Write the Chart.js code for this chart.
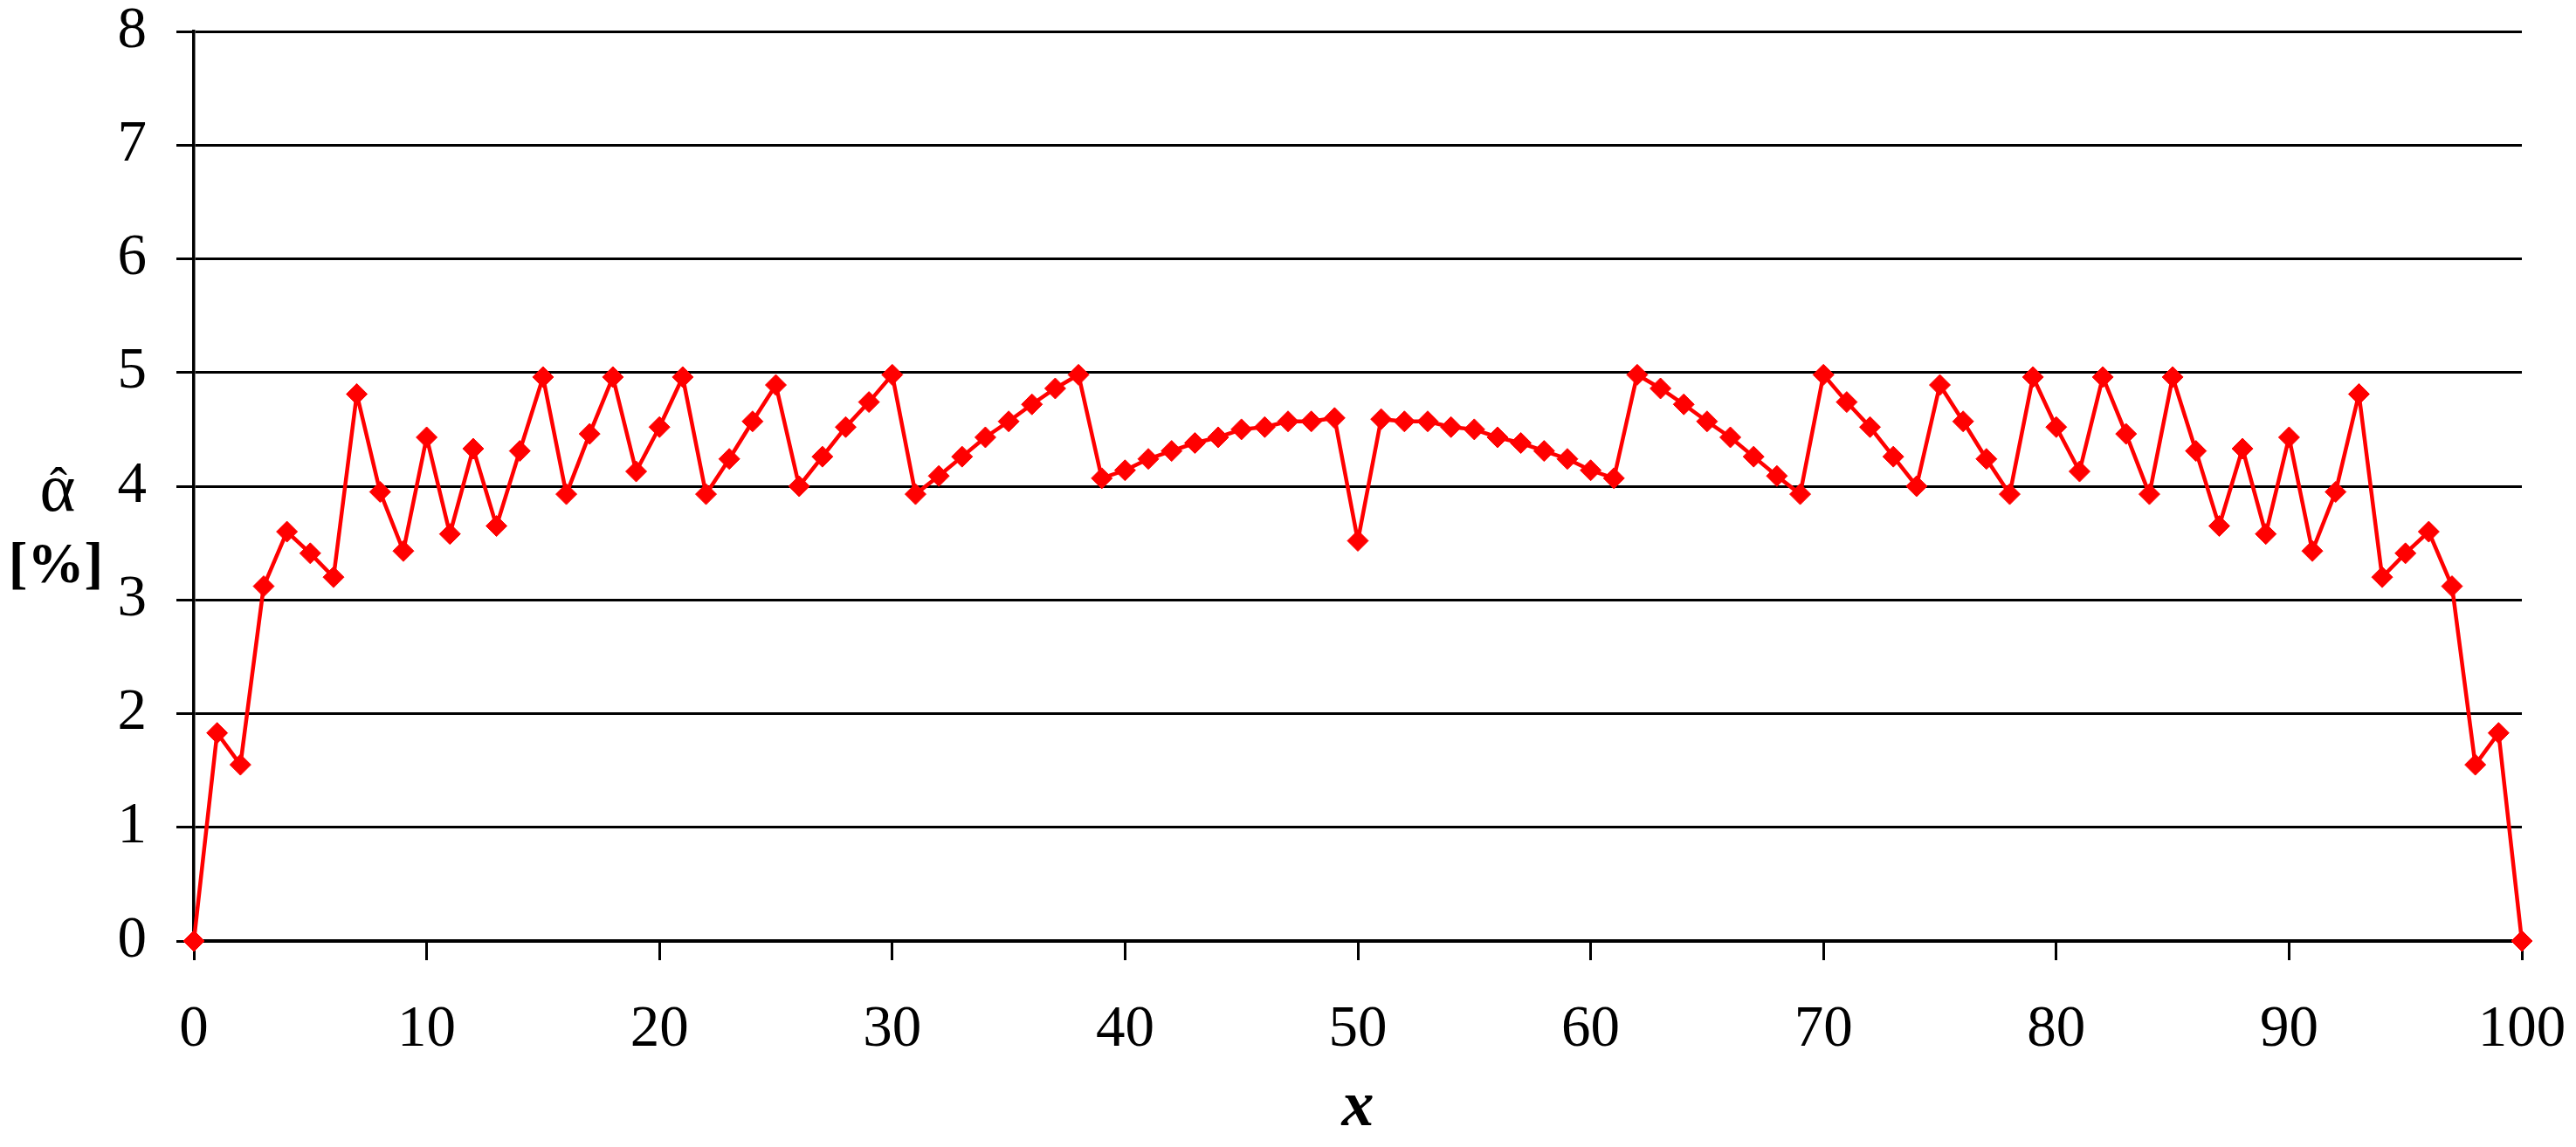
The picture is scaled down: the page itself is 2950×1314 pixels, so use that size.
<!DOCTYPE html>
<html>
<head>
<meta charset="utf-8">
<script src="https://cdn.jsdelivr.net/npm/chart.js@4.4.1/dist/chart.umd.min.js"></script>
<style>
  html, body { margin: 0; padding: 0; background: #fff; }
  #wrap { width: 2950px; height: 1314px; position: relative; }
</style>
</head>
<body>
<div id="wrap"><canvas id="alphaChart" width="2950" height="1314"></canvas></div>
<script>
// x positions 0..100
let xValues = [
    0, 1, 2, 3, 4, 5, 6, 7, 8, 9, 10, 11, 12, 13, 14, 15, 16, 17, 18, 19, 20,
    21, 22, 23, 24, 25, 26, 27, 28, 29, 30, 31, 32, 33, 34, 35, 36, 37, 38, 39, 40,
    41, 42, 43, 44, 45, 46, 47, 48, 49, 50, 51, 52, 53, 54, 55, 56, 57, 58, 59, 60,
    61, 62, 63, 64, 65, 66, 67, 68, 69, 70, 71, 72, 73, 74, 75, 76, 77, 78, 79, 80,
    81, 82, 83, 84, 85, 86, 87, 88, 89, 90, 91, 92, 93, 94, 95, 96, 97, 98, 99, 100
];

// alpha hat [%]
let alphaValues = [
    0.00, 1.83, 1.55, 3.12, 3.60, 3.41, 3.20, 4.81, 3.95, 3.43,   // 0-9
    4.43, 3.58, 4.33, 3.65, 4.31, 4.96, 3.93, 4.46, 4.96, 4.13,   // 10-19
    4.52, 4.96, 3.93, 4.24, 4.57, 4.89, 4.00, 4.26, 4.52, 4.74,   // 20-29
    4.98, 3.93, 4.09, 4.26, 4.43, 4.57, 4.72, 4.86, 4.98, 4.07,   // 30-39
    4.14, 4.24, 4.31, 4.38, 4.43, 4.50, 4.52, 4.57, 4.57, 4.60,   // 40-49
    3.52, 4.59, 4.57, 4.57, 4.52, 4.50, 4.43, 4.38, 4.31, 4.24,   // 50-59
    4.14, 4.07, 4.98, 4.86, 4.72, 4.57, 4.43, 4.26, 4.09, 3.93,   // 60-69
    4.98, 4.74, 4.52, 4.26, 4.00, 4.89, 4.57, 4.24, 3.93, 4.96,   // 70-79
    4.52, 4.13, 4.96, 4.46, 3.93, 4.96, 4.31, 3.65, 4.33, 3.58,   // 80-89
    4.43, 3.43, 3.95, 4.81, 3.20, 3.41, 3.60, 3.12, 1.55, 1.83,   // 90-99
    0.00                                                          // 100
];

let yTitleSymbol = "α";
let yTitleHat = "\u02C6";
let yTitleUnit = "[%]";
let xTitle = "x";

const serif = "'Liberation Serif', 'Times New Roman', serif";

// y axis title is written horizontally, left of the tick labels
const yTitlePlugin = {
    id: "yTitle",
    afterDraw(chart) {
        let ctx = chart.ctx;
        ctx.save();
        ctx.fillStyle = "#000";
        ctx.textAlign = "center";
        ctx.textBaseline = "alphabetic";
        ctx.font = "78px " + serif;
        ctx.fillText(yTitleSymbol, 66, 585);
        ctx.font = "60px " + serif;
        ctx.fillText(yTitleHat, 67, 576);
        ctx.font = "bold 65px " + serif;
        ctx.fillText(yTitleUnit, 64, 667);
        ctx.restore();
    }
};

let ctx = document.getElementById("alphaChart").getContext("2d");

new Chart(ctx, {
    type: "line",
    data: {
        datasets: [{
            data: xValues.map((x, i) => ({ x: x, y: alphaValues[i] })),
            borderColor: "#FF0000",
            backgroundColor: "#FF0000",
            borderWidth: 4.5,
            pointStyle: "rectRot",
            pointRadius: 12,
            pointBorderWidth: 1,
            pointBackgroundColor: "#FF0000",
            pointBorderColor: "#FF0000",
            tension: 0,
            fill: false,
            clip: false  // end markers at x=0 and x=100 sit on the axes
        }]
    },
    options: {
        responsive: false,
        animation: false,
        events: [],
        layout: { padding: { left: 0, top: 36, right: 62, bottom: 0 } },
        plugins: {
            legend: { display: false },
            tooltip: { enabled: false }
        },
        scales: {
            x: {
                type: "linear",
                min: 0,
                max: 100,
                afterFit: scale => {
                    scale.height = 236;
                    scale.paddingLeft = 0;
                    scale.paddingRight = 0;
                },
                ticks: {
                    stepSize: 10,
                    color: "#000",
                    padding: 40,
                    maxRotation: 0,
                    font: { family: serif, size: 67 }
                },
                grid: {
                    drawOnChartArea: false,
                    drawTicks: true,
                    tickLength: 22,
                    color: "#000",
                    lineWidth: 3
                },
                border: { display: true, color: "#000", width: 3.5 },
                title: {
                    display: true,
                    text: xTitle,
                    color: "#000",
                    padding: { top: 0, bottom: 0 },
                    font: { family: serif, size: 74, style: "italic", weight: "bold" }
                }
            },
            y: {
                min: 0,
                max: 8,
                afterFit: scale => {
                    scale.width = 222;
                    scale.paddingTop = 0;
                    scale.paddingBottom = 0;
                },
                ticks: {
                    stepSize: 1,
                    color: "#000",
                    padding: 34,
                    font: { family: serif, size: 67 }
                },
                grid: {
                    drawTicks: true,
                    tickLength: 20,
                    color: "#000",
                    lineWidth: 3
                },
                border: { display: true, color: "#000", width: 3.5 }
            }
        }
    },
    plugins: [yTitlePlugin]
});
</script>
</body>
</html>
